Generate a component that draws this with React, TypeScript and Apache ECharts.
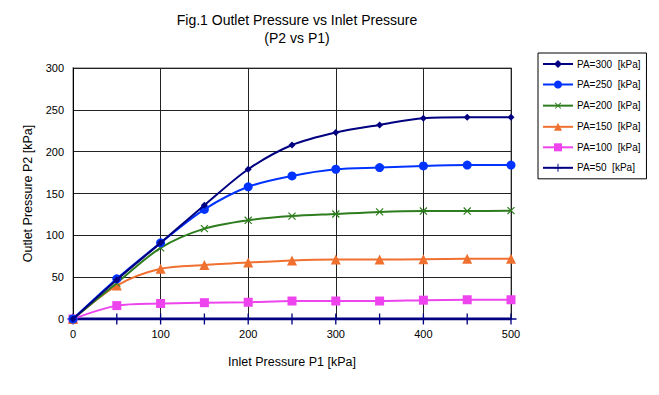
import React, { useEffect, useRef } from "react";
import * as echarts from "echarts";

const inletP1 = [0, 50, 100, 150, 200, 250, 300, 350, 400, 450, 500];
const seriesNames = [
  "PA=300  [kPa]",
  "PA=250  [kPa]",
  "PA=200  [kPa]",
  "PA=150  [kPa]",
  "PA=100  [kPa]",
  "PA=50  [kPa]",
];
const pa300 = [0, 47, 91, 136, 179, 208, 223, 232, 240, 241, 241];
const pa250 = [0, 48, 91, 131, 158, 171, 179, 181, 183, 184, 184];
const pa200 = [0, 43, 85, 108, 118, 123, 125.5, 128, 129, 129, 129.5];
const pa150 = [0, 40, 60, 64.5, 67.5, 70, 71, 71, 71.5, 72, 72];
const pa100 = [0, 16, 18.5, 19.5, 20, 21.5, 21.5, 21.5, 22.5, 23, 23];
const pa50 = [0, 0, 0, 0, 0, 0, 0, 0, 0, 0, 0];
const yTicks = [0, 50, 100, 150, 200, 250, 300];
const xTicks = [0, 100, 200, 300, 400, 500];

const colors = ["#000080", "#0033ff", "#2e7d1e", "#f07030", "#ee44ee", "#000080"];
const plusPath =
  "path://M-0.12,-1 L0.12,-1 L0.12,1 L-0.12,1 Z M-1,-0.12 L1,-0.12 L1,0.12 L-1,0.12 Z";

export default function App() {
  const ref = useRef<HTMLDivElement>(null);
  useEffect(() => {
    document.body.style.margin = "0";
    if (!ref.current) return;
    const chart = echarts.init(ref.current, null, { renderer: "svg" });
    const dataSets = [pa300, pa250, pa200, pa150, pa100, pa50];
    const symbols = ["diamond", "circle", plusPath, "triangle", "rect", plusPath];
    const sizes = [7, 9, 10, 10, 9, 11];
    const rotates = [0, 0, 45, 0, 0, 0];
    const series = dataSets.map((d, i) => ({
      name: seriesNames[i],
      type: "line",
      smooth: 0.3,
      data: d.map((v, j) => [inletP1[j], v]),
      symbol: symbols[i],
      symbolSize: sizes[i],
      symbolRotate: rotates[i],
      showSymbol: true,
      lineStyle: { color: colors[i], width: i === 5 ? 3 : 2 },
      itemStyle: { color: colors[i] },
      z: 10 - i,
    }));
    chart.setOption({
      animation: false,
      backgroundColor: "#ffffff",
      title: {
        text: "Fig.1 Outlet Pressure vs Inlet Pressure\n(P2 vs P1)",
        left: 292,
        top: 6,
        textAlign: "center",
        textStyle: {
          fontFamily: "Liberation Sans, Arial, sans-serif",
          fontSize: 14,
          fontWeight: "normal",
          color: "#000",
          lineHeight: 18,
        },
      },
      legend: {
        orient: "vertical",
        left: 538,
        top: 53,
        width: 115,
        padding: [6, 6, 6, 4],
        itemWidth: 30,
        itemHeight: 10,
        itemGap: 10.5,
        borderColor: "#000",
        borderWidth: 1,
        textStyle: {
          fontFamily: "Liberation Sans, Arial, sans-serif",
          fontSize: 10,
          color: "#000",
          padding: [0, 0, 0, -1],
        },
        data: seriesNames,
      },
      grid: {
        left: 73,
        right: 148,
        top: 68,
        bottom: 76,
        show: true,
        borderColor: "#999",
        borderWidth: 1.5,
        containLabel: false,
      },
      xAxis: {
        type: "value",
        min: 0,
        max: 500,
        interval: 100,
        name: "Inlet Pressure P1 [kPa]",
        nameLocation: "middle",
        nameGap: 36,
        nameTextStyle: {
          fontFamily: "Liberation Sans, Arial, sans-serif",
          fontSize: 12.5,
          color: "#000",
        },
        axisLine: { show: false },
        axisTick: { show: false },
        axisLabel: {
          fontFamily: "Liberation Sans, Arial, sans-serif",
          fontSize: 11,
          color: "#000",
          margin: 9,
          formatter: (v: number) => (xTicks.includes(v) ? String(v) : ""),
        },
        splitLine: { show: true, lineStyle: { color: "#222", width: 1 } },
      },
      yAxis: {
        type: "value",
        min: 0,
        max: 300,
        interval: 50,
        name: "Outlet Pressure P2 [kPa]",
        nameLocation: "middle",
        nameGap: 35,
        nameTextStyle: {
          fontFamily: "Liberation Sans, Arial, sans-serif",
          fontSize: 12.5,
          color: "#000",
        },
        axisLine: { show: true, lineStyle: { color: "#000", width: 1 } },
        axisTick: { show: false },
        axisLabel: {
          fontFamily: "Liberation Sans, Arial, sans-serif",
          fontSize: 11,
          color: "#000",
          margin: 9,
          formatter: (v: number) => (yTicks.includes(v) ? String(v) : ""),
        },
        splitLine: { show: true, lineStyle: { color: "#222", width: 1 } },
      },
      series,
    });
    return () => chart.dispose();
  }, []);
  return <div ref={ref} style={{ width: 659, height: 395 }} />;
}
